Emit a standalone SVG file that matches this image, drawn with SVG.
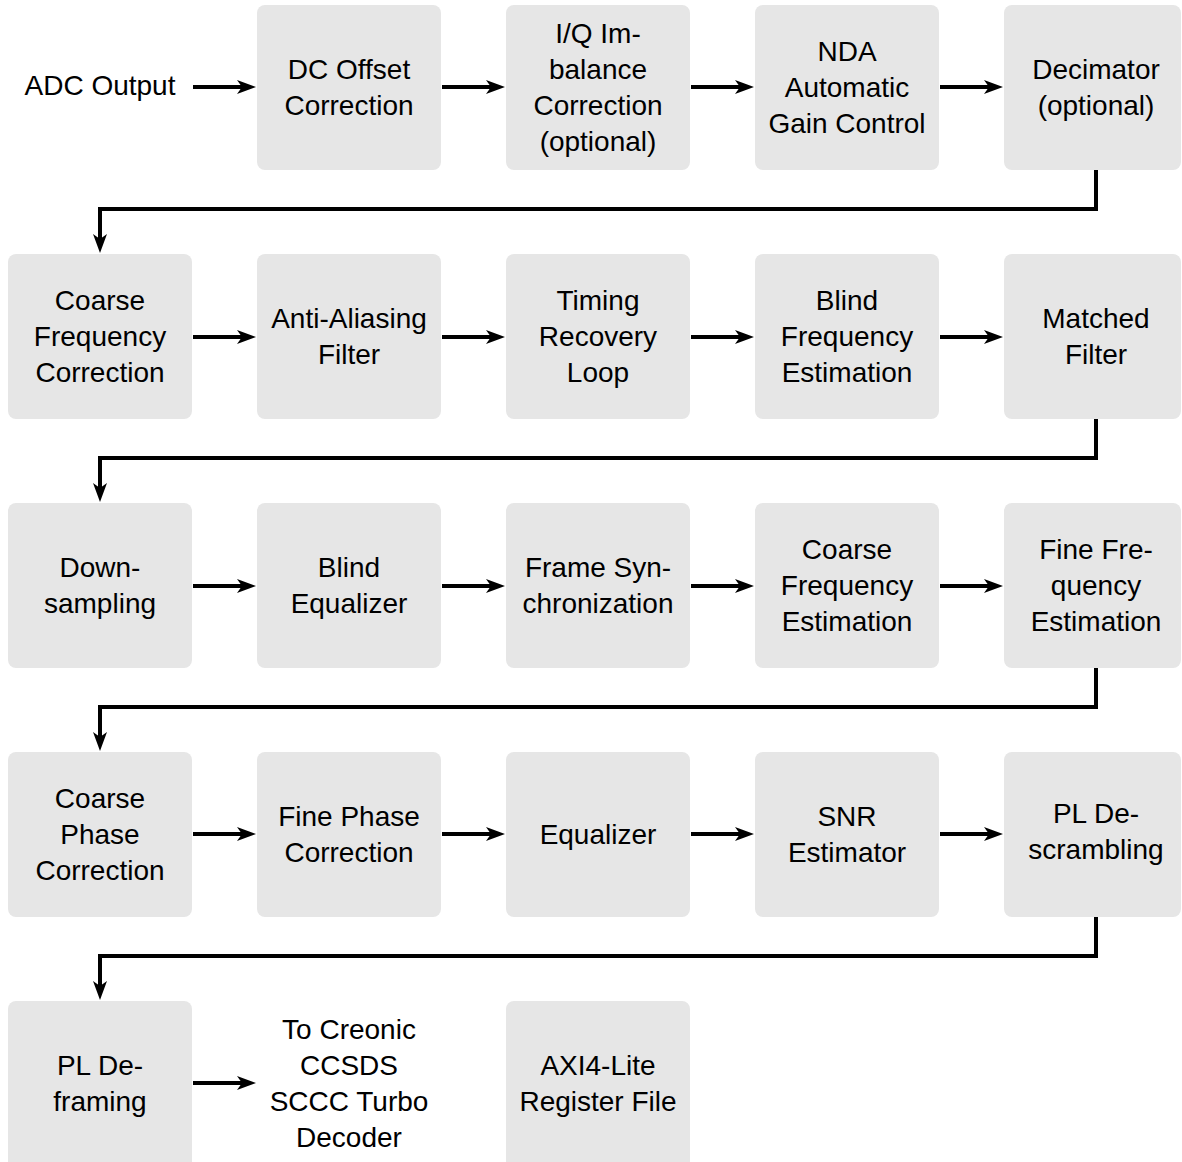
<svg xmlns="http://www.w3.org/2000/svg" width="1182" height="1162" viewBox="0 0 1182 1162">
<defs>
<style>
.box{fill:#e6e6e6;}
text{font-family:"Liberation Sans",Arial,Helvetica,sans-serif;font-size:28px;fill:#000;text-anchor:middle;}
.conn{fill:none;stroke:#000;stroke-width:4;stroke-linejoin:miter;marker-end:url(#ah);}
</style>
<marker id="ah" viewBox="0 0 20 14" markerWidth="20" markerHeight="14" refX="7" refY="7" orient="auto" markerUnits="userSpaceOnUse">
<path d="M0,0 L19,7 L0,14 L5,7 Z" fill="#000"/>
</marker>
</defs>
<rect width="1182" height="1162" fill="#fff"/>

<g id="adc"><text x="100" y="95">ADC Output</text></g>
<g id="dc"><rect class="box" x="257" y="5" width="184" height="165" rx="8"/><text x="349"><tspan x="349" y="78.5">DC Offset</tspan><tspan x="349" y="114.5">Correction</tspan></text></g>
<g id="iq"><rect class="box" x="506" y="5" width="184" height="165" rx="8"/><text x="598"><tspan x="598" y="42.5">I/Q Im-</tspan><tspan x="598" y="78.5">balance</tspan><tspan x="598" y="114.5">Correction</tspan><tspan x="598" y="150.5">(optional)</tspan></text></g>
<g id="agc"><rect class="box" x="755" y="5" width="184" height="165" rx="8"/><text x="847"><tspan x="847" y="60.5">NDA</tspan><tspan x="847" y="96.5">Automatic</tspan><tspan x="847" y="132.5">Gain Control</tspan></text></g>
<g id="dec"><rect class="box" x="1004" y="5" width="177" height="165" rx="8"/><text x="1096"><tspan x="1096" y="78.5">Decimator</tspan><tspan x="1096" y="114.5">(optional)</tspan></text></g>

<g id="cfc"><rect class="box" x="8" y="254" width="184" height="165" rx="8"/><text x="100"><tspan x="100" y="309.5">Coarse</tspan><tspan x="100" y="345.5">Frequency</tspan><tspan x="100" y="381.5">Correction</tspan></text></g>
<g id="aaf"><rect class="box" x="257" y="254" width="184" height="165" rx="8"/><text x="349"><tspan x="349" y="327.5">Anti-Aliasing</tspan><tspan x="349" y="363.5">Filter</tspan></text></g>
<g id="trl"><rect class="box" x="506" y="254" width="184" height="165" rx="8"/><text x="598"><tspan x="598" y="309.5">Timing</tspan><tspan x="598" y="345.5">Recovery</tspan><tspan x="598" y="381.5">Loop</tspan></text></g>
<g id="bfe"><rect class="box" x="755" y="254" width="184" height="165" rx="8"/><text x="847"><tspan x="847" y="309.5">Blind</tspan><tspan x="847" y="345.5">Frequency</tspan><tspan x="847" y="381.5">Estimation</tspan></text></g>
<g id="mf"><rect class="box" x="1004" y="254" width="177" height="165" rx="8"/><text x="1096"><tspan x="1096" y="327.5">Matched</tspan><tspan x="1096" y="363.5">Filter</tspan></text></g>

<g id="ds"><rect class="box" x="8" y="503" width="184" height="165" rx="8"/><text x="100"><tspan x="100" y="576.5">Down-</tspan><tspan x="100" y="612.5">sampling</tspan></text></g>
<g id="beq"><rect class="box" x="257" y="503" width="184" height="165" rx="8"/><text x="349"><tspan x="349" y="576.5">Blind</tspan><tspan x="349" y="612.5">Equalizer</tspan></text></g>
<g id="fs"><rect class="box" x="506" y="503" width="184" height="165" rx="8"/><text x="598"><tspan x="598" y="576.5">Frame Syn-</tspan><tspan x="598" y="612.5">chronization</tspan></text></g>
<g id="cfe"><rect class="box" x="755" y="503" width="184" height="165" rx="8"/><text x="847"><tspan x="847" y="558.5">Coarse</tspan><tspan x="847" y="594.5">Frequency</tspan><tspan x="847" y="630.5">Estimation</tspan></text></g>
<g id="ffe"><rect class="box" x="1004" y="503" width="177" height="165" rx="8"/><text x="1096"><tspan x="1096" y="558.5">Fine Fre-</tspan><tspan x="1096" y="594.5">quency</tspan><tspan x="1096" y="630.5">Estimation</tspan></text></g>

<g id="cpc"><rect class="box" x="8" y="752" width="184" height="165" rx="8"/><text x="100"><tspan x="100" y="807.5">Coarse</tspan><tspan x="100" y="843.5">Phase</tspan><tspan x="100" y="879.5">Correction</tspan></text></g>
<g id="fpc"><rect class="box" x="257" y="752" width="184" height="165" rx="8"/><text x="349"><tspan x="349" y="825.5">Fine Phase</tspan><tspan x="349" y="861.5">Correction</tspan></text></g>
<g id="eq"><rect class="box" x="506" y="752" width="184" height="165" rx="8"/><text x="598" y="843.5">Equalizer</text></g>
<g id="snr"><rect class="box" x="755" y="752" width="184" height="165" rx="8"/><text x="847"><tspan x="847" y="825.5">SNR</tspan><tspan x="847" y="861.5">Estimator</tspan></text></g>
<g id="pds"><rect class="box" x="1004" y="752" width="177" height="165" rx="8"/><text x="1096"><tspan x="1096" y="822.5">PL De-</tspan><tspan x="1096" y="858.5">scrambling</tspan></text></g>

<g id="pdf"><rect class="box" x="8" y="1001" width="184" height="175" rx="8"/><text x="100"><tspan x="100" y="1074.5">PL De-</tspan><tspan x="100" y="1110.5">framing</tspan></text></g>
<g id="dec2"><text x="349"><tspan x="349" y="1038.5">To Creonic</tspan><tspan x="349" y="1074.5">CCSDS</tspan><tspan x="349" y="1110.5">SCCC Turbo</tspan><tspan x="349" y="1146.5">Decoder</tspan></text></g>
<g id="axi"><rect class="box" x="506" y="1001" width="184" height="175" rx="8"/><text x="598"><tspan x="598" y="1074.5">AXI4-Lite</tspan><tspan x="598" y="1110.5">Register File</tspan></text></g>

<g id="connectors">
<path class="conn" d="M193,87 H244"/>
<path class="conn" d="M442,87 H493"/>
<path class="conn" d="M691,87 H742"/>
<path class="conn" d="M940,87 H991"/>
<path class="conn" d="M1096,170 V209 H100 V241"/>
<path class="conn" d="M193,337 H244"/>
<path class="conn" d="M442,337 H493"/>
<path class="conn" d="M691,337 H742"/>
<path class="conn" d="M940,337 H991"/>
<path class="conn" d="M1096,419 V458 H100 V490"/>
<path class="conn" d="M193,586 H244"/>
<path class="conn" d="M442,586 H493"/>
<path class="conn" d="M691,586 H742"/>
<path class="conn" d="M940,586 H991"/>
<path class="conn" d="M1096,668 V707 H100 V739"/>
<path class="conn" d="M193,834 H244"/>
<path class="conn" d="M442,834 H493"/>
<path class="conn" d="M691,834 H742"/>
<path class="conn" d="M940,834 H991"/>
<path class="conn" d="M1096,917 V956 H100 V988"/>
<path class="conn" d="M193,1083 H244"/>
</g>
</svg>
